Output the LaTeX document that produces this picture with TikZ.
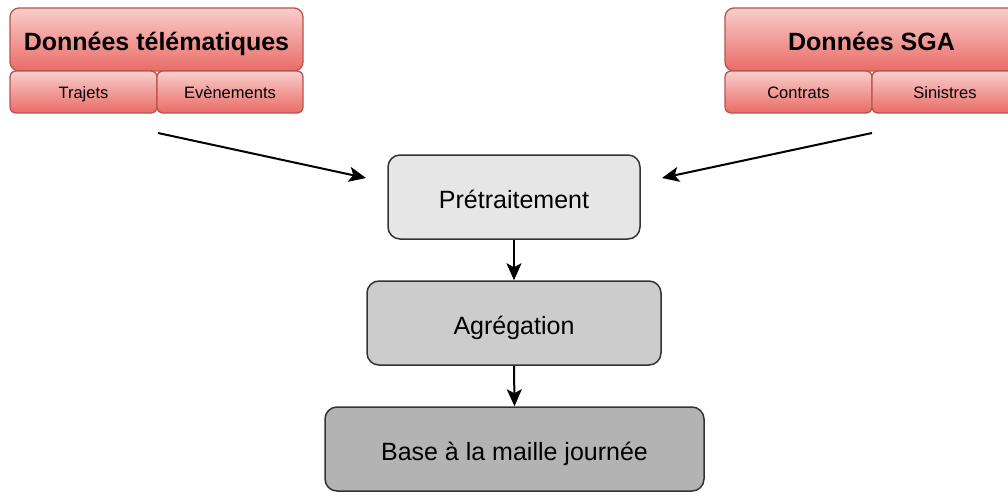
\documentclass[tikz,border=0pt]{standalone}
\usepackage{fontspec}
\setmainfont{Liberation Sans}
\usetikzlibrary{arrows.meta}
\definecolor{redtop}{HTML}{F8CECC}
\definecolor{redbot}{HTML}{EA6B66}
\definecolor{redborder}{HTML}{B85450}
\definecolor{gA}{HTML}{E6E6E6}
\definecolor{gB}{HTML}{CCCCCC}
\definecolor{gC}{HTML}{B3B3B3}
\definecolor{edge}{HTML}{333333}
\begin{document}
\begin{tikzpicture}[x=1pt,y=-1pt,
  hdr/.style={draw=redborder, line width=1.3pt, rounded corners=9pt, top color=redtop, bottom color=redbot,
    minimum width=293pt, minimum height=63pt, inner sep=0pt, text height=21pt, text depth=0pt,
    font=\fontsize{25}{30}\selectfont\bfseries},
  subcell/.style={draw=redborder, line width=1.3pt, rounded corners=6pt, top color=redtop, bottom color=redbot,
    minimum height=42pt, inner sep=0pt, text height=12.6pt, text depth=0pt, font=\fontsize{16.5}{20}\selectfont},
  proc/.style={draw=edge, line width=1.5pt, rounded corners=12pt, minimum height=84pt, inner sep=0pt,
    text height=22pt, text depth=0pt, font=\fontsize{25}{30}\selectfont},
  arr/.style={draw=black, line width=2pt, -{Stealth[length=17pt,width=15pt,inset=4pt]}}
]
\useasboundingbox (0,0) rectangle (1008,495);
\fill[white] (0,0) rectangle (1008,495);

\node[hdr] (hdrT) at (156.5,39.5) {Données télématiques};
\node[subcell, minimum width=147pt] (trajets) at (83.5,92) {Trajets};
\node[subcell, minimum width=146pt] (even) at (230,92) {Evènements};

\node[hdr] (hdrS) at (871.5,39.5) {Données SGA};
\node[subcell, minimum width=147pt] (contrats) at (798.5,92) {Contrats};
\node[subcell, minimum width=146pt] (sinistres) at (945,92) {Sinistres};

\node[proc, fill=gA, minimum width=252pt] (pre) at (514,197) {Prétraitement};
\node[proc, fill=gB, minimum width=294pt] (agg) at (514,323) {Agrégation};
\node[proc, fill=gC, minimum width=379pt] (base) at (514.5,449) {Base à la maille journée};

\coordinate (l1) at (158,133);
\coordinate (l2) at (366,178);
\coordinate (r1) at (872,133);
\coordinate (r2) at (662,178);

\draw[arr] (l1) -- (l2);
\draw[arr] (r1) -- (r2);
\draw[arr] (pre.south) -- (agg.north);
\draw[arr] (agg.south) -- (base.north);
\end{tikzpicture}
\end{document}
